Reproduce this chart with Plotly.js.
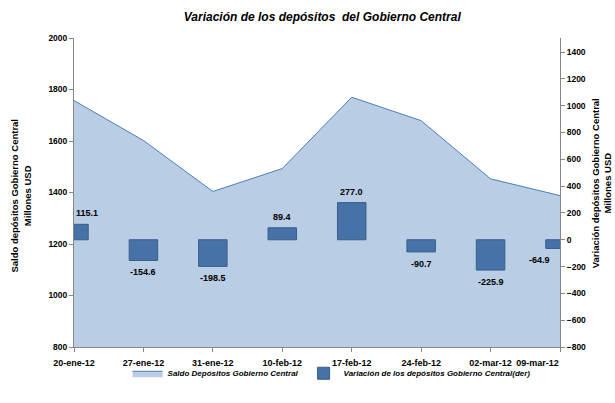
<!DOCTYPE html>
<html>
<head>
<meta charset="utf-8">
<script src="https://cdn.plot.ly/plotly-3.0.1.min.js"></script>
<style>html,body{margin:0;padding:0;background:#fff;}#chart{width:615px;height:403px;}</style>
</head>
<body>
<div id="chart"></div>
<script>
const categories = ['20-ene-12', '27-ene-12', '31-ene-12', '10-feb-12', '17-feb-12', '24-feb-12', '02-mar-12', '09-mar-12'];
const saldo = [1757, 1602, 1404, 1493, 1770, 1679, 1453, 1388];
const variacion = [115.1, -154.6, -198.5, 89.4, 277.0, -90.7, -225.9, -64.9];
const leftTicks = [800, 1000, 1200, 1400, 1600, 1800, 2000];
const rightTicks = [-800, -600, -400, -200, 0, 200, 400, 600, 800, 1000, 1200, 1400];
const titleText = 'Variación de los depósitos  del Gobierno Central';
const leftTitle = 'Saldo depósitos Gobierno Central<br>Millones USD';
const rightTitle = 'Variación depósitos Gobierno Central<br>Millones USD';
const nameSaldo = 'Saldo Depósitos Gobierno Central';
const nameVar = 'Variación de los depósitos Gobierno Central(der)';

const FONT = 'Liberation Sans, Arial, sans-serif';

// last tick label is kept inside the chart (as the source does) by padding it on the right
const tickText = categories.map((c, i) => i === categories.length - 1 ? c + '\u00a0'.repeat(18) : c);

const traces = [
  {
    type: 'scatter', mode: 'lines', x: categories, y: saldo, name: nameSaldo,
    fill: 'tozeroy', fillcolor: '#B9CDE5',
    line: {color: '#4A7EBB', width: 1}, yaxis: 'y'
  },
  {
    type: 'bar', x: categories, y: variacion, name: nameVar, yaxis: 'y2',
    width: 0.41,
    marker: {color: '#4672A8', line: {color: '#385D8A', width: 1}}
  }
];

const annotations = variacion.map((v, i) => {
  const last = i === variacion.length - 1;
  return {
    x: categories[i], y: v, xref: 'x', yref: 'y2',
    text: v.toFixed(1), showarrow: false,
    xanchor: i === 0 ? 'left' : (last ? 'right' : 'center'),
    xshift: last ? -8 : 0,
    yanchor: 'middle', yshift: v >= 0 ? 11 : -12,
    font: {family: FONT, size: 9, color: '#000', weight: 'bold'}
  };
});
annotations.push({
  xref: 'paper', yref: 'paper', x: 0, y: 0.49, xshift: -53, textangle: -90,
  text: leftTitle, showarrow: false, xanchor: 'center', yanchor: 'middle',
  font: {family: FONT, size: 9.5, color: '#000', weight: 'bold'}
});
annotations.push({
  xref: 'paper', yref: 'paper', x: 1, y: 0.53, xshift: 41, textangle: -90,
  text: rightTitle, showarrow: false, xanchor: 'center', yanchor: 'middle',
  font: {family: FONT, size: 9.5, color: '#000', weight: 'bold'}
});

const layout = {
  width: 615, height: 403,
  margin: {l: 74, r: 55, t: 38, b: 56},
  paper_bgcolor: '#fff', plot_bgcolor: '#fff',
  showlegend: true,
  title: {
    text: titleText, x: 0.524, xanchor: 'center', y: 0.958, yanchor: 'middle',
    font: {family: FONT, size: 12, color: '#000', weight: 'bold', style: 'italic'}
  },
  xaxis: {
    type: 'category', range: [0, 7], showgrid: false, zeroline: false,
    tickvals: categories, ticktext: tickText, ticklabelstandoff: 3,
    showline: true, linecolor: '#868686', linewidth: 1,
    ticks: 'outside', ticklen: 4, tickcolor: '#868686',
    tickfont: {family: FONT, size: 9, color: '#000', weight: 'bold'}
  },
  yaxis: {
    range: [800, 2000], tickvals: leftTicks, showgrid: false, zeroline: false,
    showline: true, linecolor: '#868686', linewidth: 1,
    ticks: 'outside', ticklen: 4, tickcolor: '#868686',
    tickfont: {family: FONT, size: 8.5, color: '#000', weight: 'bold'}
  },
  yaxis2: {
    overlaying: 'y', side: 'right', range: [-800, 1505], tickvals: rightTicks,
    showgrid: false, zeroline: false,
    showline: true, linecolor: '#868686', linewidth: 1,
    ticks: 'outside', ticklen: 4, tickcolor: '#868686',
    tickfont: {family: FONT, size: 8.5, color: '#000', weight: 'bold'}
  },
  legend: {
    orientation: 'h', x: 0.53, xanchor: 'center', y: -0.085, yanchor: 'middle',
    bgcolor: 'rgba(0,0,0,0)', itemwidth: 30,
    font: {family: FONT, size: 8, color: '#000', weight: 'bold', style: 'italic'}
  },
  annotations: annotations,
  bargap: 0
};

Plotly.newPlot('chart', traces, layout, {displayModeBar: false, staticPlot: true});
</script>
</body>
</html>
